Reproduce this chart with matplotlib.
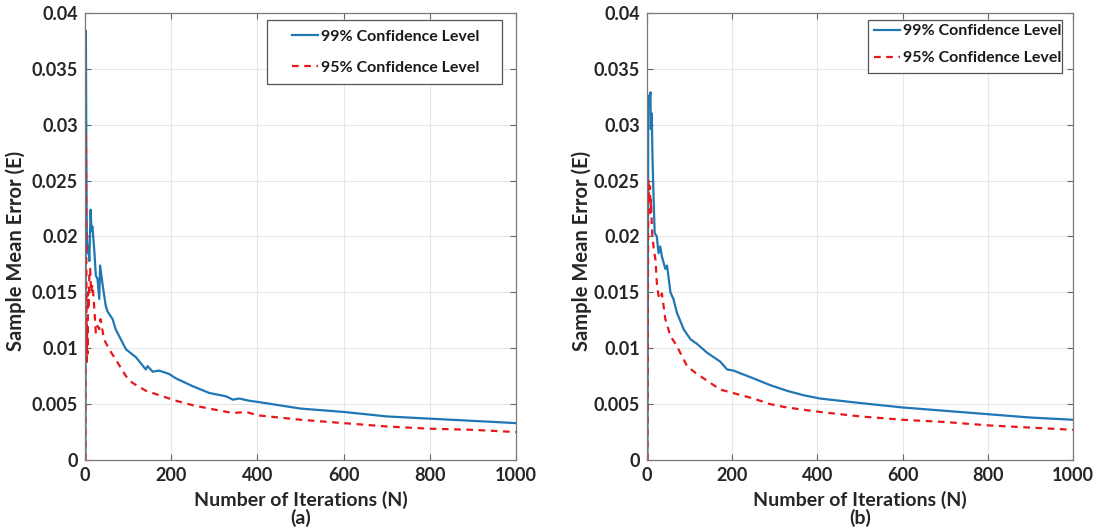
import matplotlib.pyplot as plt
from matplotlib.patches import Rectangle

plt.rcParams['font.family'] = ['Lato', 'DejaVu Sans']
plt.rcParams['font.weight'] = 'bold'

# (a) sample mean error vs iterations
n_a99 = [1, 2, 3, 4, 6, 8, 10, 13, 15, 17, 19, 22, 25, 29, 33, 35, 40, 48, 52, 64, 71, 95, 118, 141,
         145, 157, 172, 195, 211, 250, 288, 327, 343, 358, 381, 400, 500, 600, 700, 800, 900, 1000]
e_a99 = [0, 0.0384, 0.028, 0.0206, 0.0185, 0.0191, 0.0178, 0.0224, 0.0205, 0.0209, 0.0200, 0.0185,
         0.0165, 0.0162, 0.0144, 0.0174, 0.0159, 0.0138, 0.0133, 0.0126, 0.0117, 0.0099, 0.0092,
         0.0081, 0.0084, 0.0079, 0.0080, 0.0077, 0.0073, 0.0066, 0.0060, 0.0057, 0.0054, 0.0055,
         0.0053, 0.0052, 0.0046, 0.0043, 0.0039, 0.0037, 0.0035, 0.0033]

n_a95 = [1, 2, 3, 4, 5, 6, 7, 8, 10, 12, 14, 17, 20, 25, 29, 33, 36, 44, 56, 71, 95, 110, 141,
         172, 211, 250, 288, 343, 374, 400, 500, 600, 700, 800, 900, 1000]
e_a95 = [0, 0.0293, 0.0180, 0.0085, 0.0120, 0.0095, 0.0150, 0.0135, 0.0165, 0.0171, 0.0150,
         0.0157, 0.0145, 0.0114, 0.0120, 0.0117, 0.0126, 0.0108, 0.0099, 0.0090, 0.0075, 0.0069,
         0.0062, 0.0058, 0.0053, 0.0049, 0.0046, 0.0042, 0.0043, 0.0040, 0.0036, 0.0033, 0.0030,
         0.0028, 0.0027, 0.0025]

# (b)
n_b99 = [1, 3, 5, 8, 9, 11, 13, 16, 18, 23, 27, 31, 35, 43, 47, 55, 62, 70, 86, 102, 117, 141,
         172, 188, 203, 250, 289, 328, 367, 406, 500, 600, 700, 800, 900, 1000]
e_b99 = [0, 0.0326, 0.0317, 0.0329, 0.0296, 0.0310, 0.0269, 0.0227, 0.0203, 0.0200, 0.0185,
         0.0191, 0.0182, 0.0171, 0.0174, 0.0150, 0.0144, 0.0132, 0.0117, 0.0108, 0.0104, 0.0096,
         0.0088, 0.0081, 0.0080, 0.0073, 0.0067, 0.0062, 0.0058, 0.0055, 0.0051, 0.0047, 0.0044,
         0.0041, 0.0038, 0.0036]

n_b95 = [1, 3, 5, 7, 8, 9, 12, 16, 20, 23, 27, 31, 35, 43, 55, 70, 94, 117, 141, 172, 211, 250,
         289, 328, 406, 500, 600, 700, 800, 900, 1000]
e_b95 = [0, 0.0251, 0.0230, 0.0245, 0.0221, 0.0233, 0.0203, 0.0188, 0.0179, 0.0159, 0.0147,
         0.0144, 0.0149, 0.0126, 0.0111, 0.0102, 0.0084, 0.0077, 0.0071, 0.0063, 0.0059, 0.0055,
         0.0050, 0.0047, 0.0043, 0.0039, 0.0036, 0.0034, 0.0031, 0.0029, 0.0027]

yticks = [0, 0.005, 0.01, 0.015, 0.02, 0.025, 0.03, 0.035, 0.04]
ytick_labels = ['0', '0.005', '0.01', '0.015', '0.02', '0.025', '0.03', '0.035', '0.04']
xticks = [0, 200, 400, 600, 800, 1000]

blue = '#1f77b4'
red = '#e8171c'

fig = plt.figure(figsize=(10.97, 5.31), dpi=100)
ax1 = fig.add_axes([0.0775, 0.1337, 0.393, 0.842])
ax2 = fig.add_axes([0.5898, 0.1337, 0.3883, 0.842])

# per panel: data, tag, ylabel x, legend anchor, legend row gap, frame box (x0, y0, x1, y1)
panels = [(ax1, n_a99, e_a99, n_a95, e_a95, '(a)', -0.137, (0.480, 0.962), 1.05,
           (0.422, 0.841, 0.9675, 0.984)),
          (ax2, n_b99, e_b99, n_b95, e_b95, '(b)', -0.129, (0.533, 0.975), 0.8,
           (0.519, 0.866, 0.974, 0.984))]

for ax, n99, e99, n95, e95, tag, ylx, anchor, gap, box in panels:
    ax.plot(n99, e99, color=blue, lw=1.6, label='99% Confidence Level')
    ax.plot(n95, e95, color=red, lw=1.6, ls=(0, (3, 2.5)), label='95% Confidence Level')
    ax.set_xlim(0, 1000)
    ax.set_ylim(0, 0.04)
    ax.set_xticks(xticks)
    ax.set_yticks(yticks)
    ax.set_yticklabels(ytick_labels)
    ax.tick_params(labelsize=13, direction='in', length=4, color='#666666', pad=5,
                   top=True, right=True, labelcolor='#262626')
    ax.grid(True, color='#e6e6e6', lw=0.8)
    ax.set_axisbelow(True)
    for s in ax.spines.values():
        s.set_color('#7a7a7a')
        s.set_linewidth(0.9)
    ax.set_ylabel('Sample Mean Error (E)', fontsize=14.5, fontweight='bold', color='#262626')
    ax.yaxis.set_label_coords(ylx, 0.467)
    ax.set_xlabel('Number of Iterations (N)\n' + tag, fontsize=14, fontweight='bold',
                  linespacing=1.0, labelpad=5, color='#262626')

    leg = ax.legend(loc='upper left', bbox_to_anchor=anchor, fontsize=11.5, frameon=False,
                    handlelength=1.6, handletextpad=0.2, labelspacing=gap, borderpad=0,
                    borderaxespad=0)
    for t in leg.get_texts():
        t.set_color('#1a1a1a')
    x0, y0, x1, y1 = box
    ax.add_patch(Rectangle((x0, y0), x1 - x0, y1 - y0, transform=ax.transAxes,
                           facecolor='white', edgecolor='#555555', lw=0.9, zorder=4))
    leg.set_zorder(5)

plt.savefig('out.png', dpi=100)
